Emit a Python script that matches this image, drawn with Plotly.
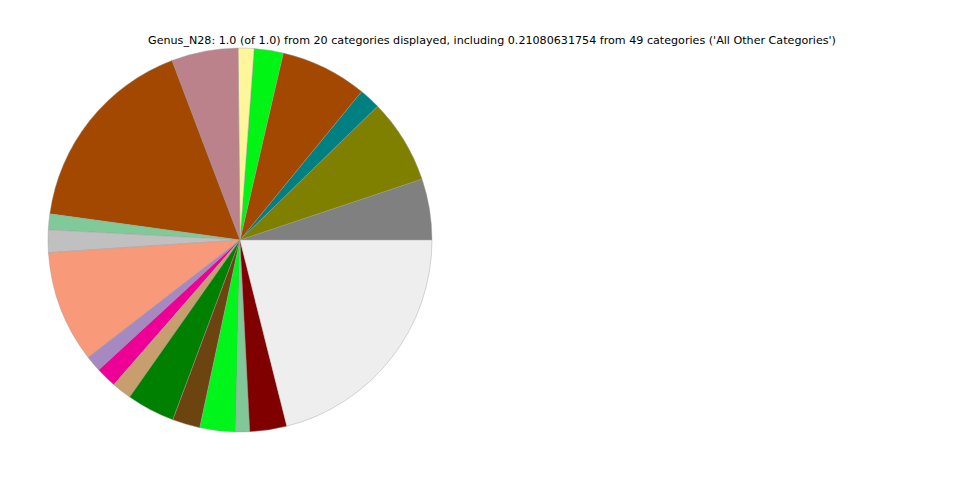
import plotly.graph_objects as go

labels = ["Genus 1", "Genus 2", "Genus 3", "Genus 4", "Genus 5", "Genus 6", "Genus 7",
          "Genus 8", "Genus 9", "Genus 10", "Genus 11", "Genus 12", "Genus 13", "Genus 14",
          "Genus 15", "Genus 16", "Genus 17", "Genus 18", "Genus 19", "All Other Categories"]
values = [0.0514, 0.0714, 0.0180, 0.0730, 0.0245, 0.0133, 0.0561, 0.1706, 0.0133, 0.0190,
          0.0942, 0.0136, 0.0175, 0.0167, 0.0406, 0.0233, 0.0300, 0.0117, 0.0311, 0.21080631754]
colors = ["#808080", "#808000", "#008080", "#A34800", "#00F514", "#FFF59A", "#BC828B",
          "#A34800", "#80C999", "#C0C0C0", "#F8997A", "#A689C0", "#EE0097", "#C89E6E",
          "#008000", "#6B4410", "#00F51A", "#80C898", "#800000", "#EEEEEE"]

title_text = ("Genus_N28: 1.0 (of 1.0) from 20 categories displayed, including 0.21080631754 "
              "from 49 categories ('All Other Categories')")

W, H = 960, 480
off = 8  # page body margin offset
cx, cy, r = 240 - off, 240 - off, 192

# first slice starts at 3 o'clock and runs counterclockwise
rot = 90 - 360 * values[0] / sum(values)

fig = go.Figure(go.Pie(
    labels=labels, values=values, sort=False, direction="counterclockwise", rotation=rot,
    marker=dict(colors=colors, line=dict(color="#9a9a9a", width=0.4)),
    textinfo="none", showlegend=False,
    domain=dict(x=[(cx - r) / W, (cx + r) / W], y=[1 - (cy + r) / H, 1 - (cy - r) / H]),
))
fig.update_layout(
    width=W, height=H, margin=dict(l=0, r=0, t=0, b=0),
    paper_bgcolor="white", plot_bgcolor="white",
    font=dict(family="DejaVu Sans", size=11, color="black"),
    title=dict(text=title_text, x=(492 - off) / W, y=1 - (40 - off) / H,
               xanchor="center", yanchor="middle",
               font=dict(family="DejaVu Sans", size=11.13, color="black")),
)
fig.write_html("out.html")
